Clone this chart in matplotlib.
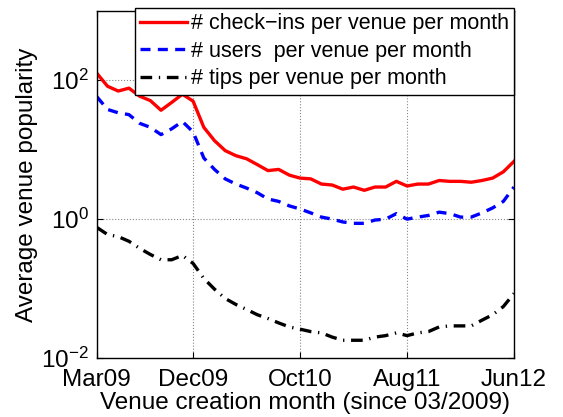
import numpy as np
import matplotlib
matplotlib.use('Agg')
import matplotlib.pyplot as plt

plt.rcParams['font.family'] = ['Liberation Sans', 'DejaVu Sans']
plt.rcParams['mathtext.fontset'] = 'custom'
plt.rcParams['mathtext.rm'] = 'Liberation Sans'

# months since 03/2009
months = np.arange(40)
tick_pos = [0, 9, 19, 29, 39]
tick_labels = ['Mar09', 'Dec09', 'Oct10', 'Aug11', 'Jun12']

checkins = [126, 82, 70, 77, 59, 51, 37, 48, 63, 50,
            21, 13.5, 9.7, 8.2, 7.4, 6.1, 5.0, 5.2, 4.3, 3.9,
            3.8, 3.2, 3.1, 2.7, 2.9, 2.6, 2.9, 2.9, 3.5, 3.0,
            3.2, 3.2, 3.6, 3.5, 3.5, 3.4, 3.6, 3.9, 4.8, 6.8]
users = [58, 38, 34, 32, 24, 21, 16.5, 20, 25.5, 18,
         7.6, 5.2, 3.8, 3.2, 2.8, 2.4, 1.95, 1.8, 1.55, 1.4,
         1.23, 1.07, 1.0, 0.91, 0.87, 0.87, 0.97, 1.0, 1.2, 1.0,
         1.07, 1.13, 1.26, 1.2, 1.07, 1.07, 1.23, 1.45, 1.8, 2.9]
tips = [0.76, 0.60, 0.56, 0.48, 0.38, 0.31, 0.26, 0.26, 0.30, 0.23,
        0.14, 0.098, 0.072, 0.059, 0.050, 0.042, 0.037, 0.032, 0.028, 0.026,
        0.024, 0.023, 0.020, 0.018, 0.018, 0.018, 0.020, 0.021, 0.023, 0.021,
        0.023, 0.024, 0.028, 0.029, 0.029, 0.029, 0.035, 0.042, 0.055, 0.085]

fig = plt.figure(figsize=(5.63, 4.17), dpi=100)
ax = fig.add_axes([0.172, 0.1415, 0.741, 0.8325])

ax.semilogy(months, checkins, '-', color='#ff0000', lw=2.4,
            label='# check\u2212ins per venue per month')
ax.semilogy(months, users, '--', color='#0000ff', lw=2.4, dashes=(3, 2.2),
            label='# users  per venue per month')
ax.semilogy(months, tips, '-.', color='k', lw=2.4, dashes=(3.5, 2, 0.4, 2),
            label='# tips per venue per month')

ax.set_xlim(0, 39)
ax.set_ylim(1e-2, 1e3)
ax.set_xticks(tick_pos)
ax.set_xticklabels(tick_labels)
ax.set_yticks([1e-2, 1e0, 1e2])
ax.yaxis.set_minor_locator(matplotlib.ticker.NullLocator())
ax.tick_params(direction='in', top=True, right=True, labelsize=17.5, length=4)
ax.tick_params(axis='x', pad=8)
ax.tick_params(axis='y', pad=6)
ax.grid(True, which='major', linestyle=':', color='#888888', lw=0.8)
for s in ax.spines.values():
    s.set_linewidth(1.0)

ax.set_xlabel('Venue creation month (since 03/2009)', fontsize=17.5, labelpad=1)
ax.set_ylabel('Average venue popularity', fontsize=17.5, labelpad=2)

leg = ax.legend(loc='upper right', bbox_to_anchor=(514 / 563, 1 - 8 / 417),
                bbox_transform=fig.transFigure, borderaxespad=0,
                fontsize=15.5, fancybox=False, framealpha=1, edgecolor='k',
                handlelength=2.2, handletextpad=0.15, labelspacing=0.3,
                borderpad=0.25)
leg.get_frame().set_linewidth(1.0)

fig.savefig('out.png', dpi=100)
